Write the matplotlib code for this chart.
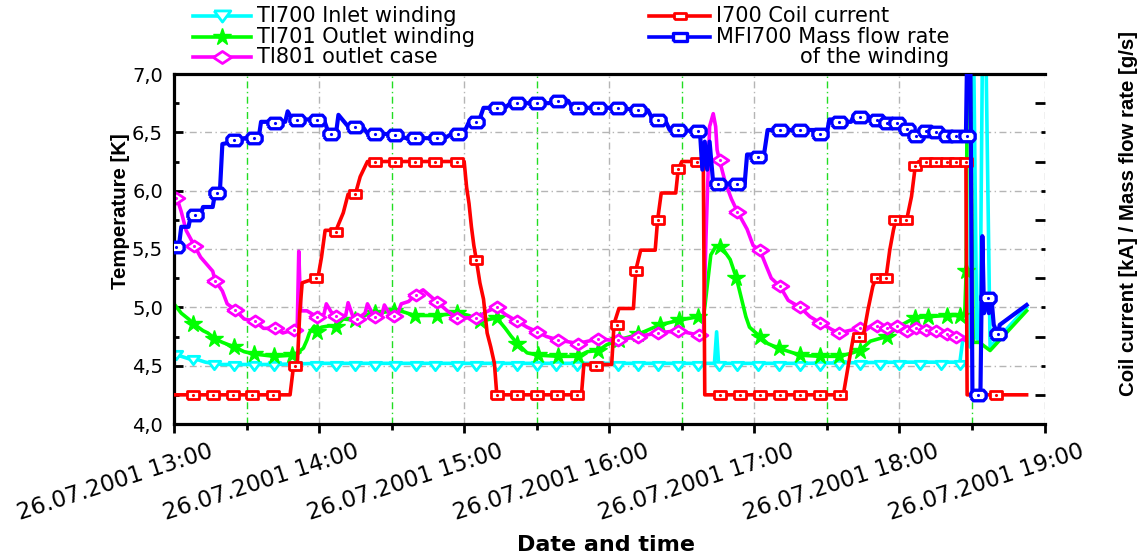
import matplotlib
matplotlib.use("Agg")
import matplotlib.pyplot as plt
import matplotlib.transforms as mtransforms
from matplotlib.lines import Line2D
from matplotlib.ticker import MultipleLocator, FixedLocator, FuncFormatter

# time axis: minutes after 26.07.2001 13:00
hour_ticks = [0, 60, 120, 180, 240, 300, 360]
hour_labels = ["26.07.2001 13:00", "26.07.2001 14:00", "26.07.2001 15:00",
               "26.07.2001 16:00", "26.07.2001 17:00", "26.07.2001 18:00",
               "26.07.2001 19:00"]

# TI700 inlet winding [K]
ti700_t = [0, 3, 6, 10, 13, 16, 20, 40, 60, 100, 150, 200, 223.5, 224.4, 225.2,
           260, 300, 325, 326.4, 329.2, 329.5, 330.5, 332, 333.3, 334.5, 335.5,
           337.5, 352.6]
ti700_v = [4.60, 4.58, 4.56, 4.55, 4.53, 4.52, 4.51, 4.51, 4.52, 4.52, 4.52,
           4.52, 4.52, 4.79, 4.52, 4.52, 4.53, 4.53, 4.75, 4.66, 7.6, 7.6, 4.73,
           4.72, 7.6, 7.6, 4.66, 5.00]
ti700_mt = [1, 8, 16.7, 25, 33, 41.5, 50, 58.6, 67, 75, 83, 91.5, 100, 108, 117,
            125, 133.4, 141.7, 150, 158, 166.5, 175, 183.5, 192, 200, 208.5,
            216.8, 225.5, 233, 241.5, 250, 258.9, 267, 275, 283.5, 292, 300,
            308.5, 317, 325]
ti700_mv = [4.59, 4.55, 4.51, 4.50, 4.50, 4.50, 4.50, 4.50, 4.50, 4.50, 4.50,
            4.50, 4.50, 4.50, 4.50, 4.50, 4.50, 4.50, 4.50, 4.50, 4.50, 4.50,
            4.50, 4.50, 4.50, 4.50, 4.50, 4.50, 4.50, 4.50, 4.50, 4.50, 4.50,
            4.51, 4.51, 4.51, 4.51, 4.51, 4.51, 4.51]

# TI701 outlet winding [K]
ti701_t = [0, 3, 6, 8, 12, 14, 17, 20, 25, 29, 33, 41.5, 49, 51, 53.5, 55, 56,
           58, 59, 61, 64, 67, 70, 75, 80, 91, 92, 99.6, 108.6, 118, 122, 126.5,
           133.4, 137, 139.5, 142, 146, 150.6, 159, 167, 171, 175.5, 179, 184,
           192, 201, 209, 216.8, 218.8, 219.5, 220.5, 222, 224, 226, 228, 230,
           232.6, 234.5, 236.5, 238, 242.3, 245.5, 250, 256, 259, 267, 275, 279,
           283.6, 288, 294.7, 300, 306.4, 312, 319.5, 327, 327.6, 328.2, 329,
           330.5, 333, 337.5, 352.6]
ti701_v = [5.03, 4.95, 4.90, 4.86, 4.80, 4.78, 4.73, 4.70, 4.66, 4.62, 4.60,
           4.58, 4.59, 4.61, 4.65, 4.72, 4.78, 4.84, 4.80, 4.83, 4.84, 4.84,
           4.90, 4.89, 4.94, 4.97, 4.98, 4.93, 4.93, 4.95, 4.93, 4.88, 4.91,
           4.82, 4.75, 4.69, 4.61, 4.59, 4.58, 4.58, 4.62, 4.63, 4.68, 4.72,
           4.77, 4.85, 4.89, 4.92, 4.90, 5.00, 5.18, 5.45, 5.52, 5.53, 5.47,
           5.41, 5.25, 5.09, 4.92, 4.83, 4.75, 4.69, 4.65, 4.61, 4.59, 4.58,
           4.58, 4.60, 4.63, 4.71, 4.75, 4.84, 4.91, 4.92, 4.93, 4.93, 5.31,
           7.6, 7.6, 4.70, 4.70, 4.63, 4.97]
ti701_mt = [8, 16.7, 25, 33, 41.5, 49, 59, 67, 75, 83, 91, 99.6, 108.6, 117,
            126.5, 133.4, 142, 150.6, 159, 167, 175.5, 184, 192, 201, 209, 216.8,
            226, 232.6, 242.3, 250, 258.9, 267, 275, 283.6, 294.7, 306.4, 312,
            319.5, 325, 327.6]
ti701_mv = [4.86, 4.73, 4.66, 4.60, 4.58, 4.59, 4.79, 4.83, 4.89, 4.95, 4.97,
            4.93, 4.93, 4.95, 4.88, 4.91, 4.69, 4.59, 4.58, 4.58, 4.63, 4.72,
            4.77, 4.85, 4.89, 4.92, 5.52, 5.25, 4.75, 4.65, 4.59, 4.58, 4.58,
            4.63, 4.75, 4.91, 4.92, 4.93, 4.93, 5.31]

# TI801 outlet case [K]
ti801_t = [0, 1, 3, 5, 8.4, 11, 16, 17, 20, 22, 25.2, 29, 33.5, 37, 41.8, 45,
           49.8, 51, 51.6, 52.4, 55, 59, 62, 63, 65, 67, 71, 72, 74, 75.7, 79,
           80, 82, 83, 86, 87, 89, 92, 94, 97, 100, 103, 108.6, 113, 117, 125,
           129, 133.4, 137, 142, 146, 150.3, 154, 159, 167, 175.5, 180, 183.7,
           192, 200, 208.5, 213, 217, 219, 220, 221.5, 223, 224, 224.6, 225.6,
           228, 230.5, 233, 237, 239.5, 242.3, 245, 247, 250.6, 254, 258.9, 263,
           267, 272, 275, 279, 283.6, 290.6, 295, 298.8, 303, 307, 311, 315,
           319.5, 323.5, 327]
ti801_v = [5.96, 5.95, 5.82, 5.66, 5.53, 5.43, 5.31, 5.23, 5.14, 5.03, 4.98,
           4.90, 4.88, 4.82, 4.82, 4.78, 4.81, 4.86, 5.48, 4.97, 4.97, 4.92,
           4.94, 5.03, 4.96, 4.93, 4.93, 5.04, 4.92, 4.90, 4.95, 5.03, 4.95,
           4.92, 4.94, 5.02, 4.95, 4.92, 5.03, 5.05, 5.11, 5.15, 5.05, 4.97,
           4.91, 4.91, 4.96, 5.00, 4.94, 4.88, 4.83, 4.79, 4.75, 4.72, 4.69,
           4.73, 4.72, 4.72, 4.75, 4.78, 4.80, 4.78, 4.76, 4.78, 5.60, 6.55,
           6.66, 6.55, 6.35, 6.26, 6.07, 5.93, 5.82, 5.67, 5.53, 5.49, 5.35,
           5.25, 5.18, 5.06, 5.00, 4.92, 4.87, 4.81, 4.78, 4.80, 4.82, 4.84,
           4.82, 4.84, 4.80, 4.82, 4.81, 4.80, 4.77, 4.75, 4.72]
ti801_mt = [1, 8.4, 17, 25.2, 33.5, 41.8, 49.8, 59, 67, 75.7, 83, 91, 100,
            108.6, 117, 125, 133.4, 142, 150.3, 159, 167, 175.5, 183.7, 192, 200,
            208.5, 217, 225.6, 233, 242.3, 250.6, 258.9, 267, 275, 283.6, 290.6,
            295, 298.8, 303, 307, 311, 315, 319.5, 323.5]
ti801_mv = [5.94, 5.53, 5.23, 4.98, 4.88, 4.82, 4.81, 4.92, 4.93, 4.90, 4.92,
            4.93, 5.11, 5.05, 4.91, 4.91, 5.00, 4.88, 4.79, 4.72, 4.69, 4.73,
            4.72, 4.75, 4.78, 4.80, 4.76, 6.26, 5.82, 5.49, 5.18, 5.00, 4.87,
            4.78, 4.82, 4.84, 4.82, 4.84, 4.80, 4.82, 4.81, 4.80, 4.77, 4.75]

# I700 coil current [kA]
i700_t = [0, 48, 49.5, 51, 52, 53, 58.6, 59.5, 61, 62.5, 67, 70, 72, 75, 77, 80,
          120, 121, 122, 123, 124, 125, 126.5, 128, 129.5, 131, 132.5, 133.5,
          168.5, 169.5, 181, 182, 184, 190, 191, 193, 199, 200, 201.5, 207.5,
          208.5, 210, 218.9, 219.5, 276.8, 279, 281, 285, 287, 289, 290.5,
          294.5, 296, 297.5, 298.5, 303, 305, 306.5, 308, 327.5, 328, 352.6]
i700_v = [0.00, 0.00, 0.52, 0.52, 1.40, 1.92, 2.00, 2.00, 2.36, 2.82, 2.82, 3.12,
          3.44, 3.44, 3.74, 4.00, 4.00, 3.56, 3.28, 2.88, 2.56, 2.32, 1.92, 1.64,
          1.06, 0.82, 0.54, 0.00, 0.00, 0.52, 0.52, 1.22, 1.48, 1.48, 2.14,
          2.48, 2.48, 3.00, 3.46, 3.46, 3.86, 4.00, 4.00, 0.00, 0.00, 0.54,
          1.00, 1.00, 1.46, 1.86, 2.02, 2.02, 2.48, 2.82, 3.00, 3.00, 3.40,
          3.90, 4.00, 4.00, 0.00, 0.00]
i700_mt = [8, 16, 24.4, 32.3, 41, 50, 58.6, 67, 75, 83, 91.4, 99.6, 107.9, 117,
           124.9, 133.4, 141.7, 150, 158.2, 166.5, 174.7, 183, 191, 200, 208.5,
           216.4, 225.8, 234, 242.3, 250.6, 258.9, 267.1, 275.4, 283.4, 290.6,
           294.5, 298, 302.6, 306.6, 311, 315, 319.5, 323.4, 327.5, 340]
i700_mv = [0, 0, 0, 0, 0, 0.5, 2.0, 2.8, 3.44, 4, 4, 4, 4, 4, 2.32, 0, 0, 0, 0,
           0, 0.5, 1.2, 2.12, 3.0, 3.88, 4, 0, 0, 0, 0, 0, 0, 0, 1.0, 2.0, 2.0,
           3.0, 3.0, 3.92, 4, 4, 4, 4, 4, 0]

# MFI700 mass flow rate of the winding [g/s]
mfi700_t = [0, 2, 3, 6, 7, 11, 12, 16, 17, 19, 20, 28, 29, 35, 36, 46, 47, 49,
            62, 64, 67, 68, 72, 78, 80, 85, 91, 96, 112, 115, 120, 122, 126, 128,
            137, 139, 155, 157, 163, 165, 186, 190, 196, 198, 203, 205, 217.5,
            218.5, 219.5, 220.5, 221.5, 223, 236, 237, 244, 245.5, 265, 266, 270,
            271, 274, 276, 280, 281, 287, 289, 295, 300, 303, 307, 309, 313, 317,
            327.5, 328.3, 329.2, 330.2, 333.5, 334.3, 335, 336, 337, 338, 339,
            340.7, 341.5, 352.6]
mfi700_v = [2.50, 2.54, 2.88, 2.88, 3.08, 3.08, 3.22, 3.22, 3.46, 3.50, 4.30,
            4.36, 4.40, 4.40, 4.68, 4.68, 4.86, 4.72, 4.72, 4.48, 4.48, 4.80,
            4.60, 4.60, 4.48, 4.48, 4.46, 4.40, 4.40, 4.48, 4.50, 4.68, 4.68,
            4.92, 4.92, 5.00, 5.00, 5.04, 5.04, 4.92, 4.92, 4.88, 4.88, 4.72,
            4.72, 4.54, 4.52, 3.86, 4.34, 3.86, 4.34, 3.62, 3.62, 4.12, 4.12,
            4.54, 4.54, 4.48, 4.48, 4.72, 4.72, 4.68, 4.68, 4.78, 4.78, 4.72,
            4.66, 4.62, 4.56, 4.44, 4.52, 4.50, 4.44, 4.44, 6.70, 6.70, 0.00,
            0.00, 2.72, 1.40, 1.70, 1.40, 1.70, 1.20, 1.04, 1.20, 1.54]
mfi700_mt = [1, 8.7, 17.6, 25, 33, 41.8, 50.7, 59, 65, 74.8, 83, 91.5, 99.6,
             108.6, 117.6, 125, 133.4, 141.7, 150, 159, 167, 175.5, 183.7, 192,
             200, 208.5, 216.8, 225, 233, 241.5, 250.6, 259, 267, 275, 283.6,
             290.6, 295, 298.8, 303, 307, 311, 315, 319.5, 323.6, 327.8, 332.6,
             336.6, 340.7]
mfi700_mv = [2.54, 3.08, 3.46, 4.36, 4.40, 4.66, 4.72, 4.72, 4.48, 4.60, 4.48,
             4.46, 4.40, 4.40, 4.48, 4.68, 4.92, 5.00, 5.00, 5.04, 4.92, 4.92,
             4.92, 4.88, 4.72, 4.54, 4.52, 3.62, 3.62, 4.08, 4.54, 4.54, 4.48,
             4.68, 4.76, 4.72, 4.66, 4.66, 4.56, 4.44, 4.52, 4.50, 4.44, 4.44,
             4.44, 0.00, 1.66, 1.04]

# the original export is stretched sideways, so the markers are wide shapes
wide_tri = [(-1.5, 1), (1.5, 1), (0, -1), (-1.5, 1)]
wide_dia = [(-1.5, 0), (0, -1), (1.5, 0), (0, 1), (-1.5, 0)]
wide_sq = [(-1.6, -1), (1.6, -1), (1.6, 1), (-1.6, 1), (-1.6, -1)]
wide_oct = [(-1.45, -0.45), (-0.95, -1), (0.95, -1), (1.45, -0.45), (1.45, 0.45),
            (0.95, 1), (-0.95, 1), (-1.45, 0.45), (-1.45, -0.45)]

W, H = 1143, 558
fig = plt.figure(figsize=(W / 100, H / 100), dpi=100)
x0, x1, y0, y1 = 174, 1044.5, 74, 424
ax = fig.add_axes([x0 / W, 1 - y1 / H, (x1 - x0) / W, (y1 - y0) / H])
ax2 = ax.twinx()

tick_font = "DejaVu Sans"
lab_font = ["Liberation Sans", "DejaVu Sans"]
lw = 2.6

# left axis: temperatures
ax.plot(ti700_t, ti700_v, color="#00ffff", lw=lw)
ax.plot(ti700_mt, ti700_mv, ls="none", marker=wide_tri, ms=9, mfc="white",
        mec="#00ffff", mew=2)
ax.plot(ti701_t, ti701_v, color="#00ff00", lw=lw)
ax.plot(ti701_mt, ti701_mv, ls="none", marker="*", ms=13, color="#00ff00")
ax.plot(ti801_t, ti801_v, color="#ff00ff", lw=lw)
ax.plot(ti801_mt, ti801_mv, ls="none", marker=wide_dia, ms=12, mfc="white",
        mec="#ff00ff", mew=2)
ax.plot(ti801_mt, ti801_mv, ls="none", marker=".", ms=2.5, color="#ff00ff")

# right axis: coil current / mass flow
ax2.plot(i700_t, i700_v, color="#ff0000", lw=lw)
ax2.plot(i700_mt, i700_mv, ls="none", marker=wide_sq, ms=8.5, mfc="white",
         mec="#ff0000", mew=2)
ax2.plot(i700_mt, i700_mv, ls="none", marker=".", ms=2.5, color="#ff0000")
ax2.plot(mfi700_t, mfi700_v, color="#0000ff", lw=lw + 0.4)
ax2.plot(mfi700_mt, mfi700_mv, ls="none", marker=wide_oct, ms=11, mfc="white",
         mec="#0000ff", mew=2.4)
ax2.plot(mfi700_mt, mfi700_mv, ls="none", marker=".", ms=2.5, color="#0000ff")

ax.set_xlim(0, 360)
ax.set_ylim(4.0, 7.0)
ax2.set_ylim(-0.5, 5.5)

ax.xaxis.set_major_locator(FixedLocator(hour_ticks))
ax.xaxis.set_minor_locator(MultipleLocator(30))
ax.set_xticklabels(hour_labels, family=tick_font, fontsize=16.5, rotation=18,
                   ha="right", va="top", rotation_mode="anchor")
ax.yaxis.set_major_locator(MultipleLocator(0.5))
ax.yaxis.set_minor_locator(MultipleLocator(0.25))
ax.yaxis.set_major_formatter(FuncFormatter(lambda v, p: f"{v:.1f}".replace(".", ",")))
for lab in ax.get_yticklabels():
    lab.set_family(tick_font)
    lab.set_fontsize(14)

ax.tick_params(axis="y", which="major", direction="in", length=6.5, width=2, pad=8)
ax.tick_params(axis="y", which="minor", direction="in", length=3.5, width=2)
ax.tick_params(axis="x", which="major", direction="out", length=6.5, width=2, pad=5)
ax.tick_params(axis="x", which="minor", direction="out", length=4, width=2)
ax2.yaxis.set_major_locator(MultipleLocator(1))
ax2.yaxis.set_minor_locator(MultipleLocator(0.5))
ax2.tick_params(axis="y", which="major", direction="in", length=7.5, width=2,
                labelright=False)
ax2.tick_params(axis="y", which="minor", direction="in", length=3, width=2)

shift = mtransforms.ScaledTranslation(0.35, 0, fig.dpi_scale_trans)
for lab in ax.get_xticklabels():
    lab.set_transform(lab.get_transform() + shift)

for s in ["left", "bottom", "top"]:
    ax.spines[s].set_linewidth(2.3)
ax.spines["right"].set_visible(False)
for s in ax2.spines.values():
    s.set_visible(False)

dashdot = (0, (5, 2.5, 1, 2.5))
ax.grid(which="major", axis="both", color="#b5b5b5", ls=dashdot, lw=1)
ax.grid(which="minor", axis="x", color="#22dd22", ls=dashdot, lw=1)

ax.set_xlabel("Date and time", family="DejaVu Sans", fontweight="bold",
              fontsize=16, va="center")
ax.xaxis.set_label_coords((606 - x0) / (x1 - x0), (y1 - 545) / (y1 - y0))
ax.set_ylabel("Temperature [K]", family=lab_font, fontweight="bold",
              fontsize=14.7, va="center")
ax.yaxis.set_label_coords((121 - x0) / (x1 - x0), (y1 - 211) / (y1 - y0))
ax2.set_ylabel("Coil current [kA] / Mass flow rate [g/s]", family=lab_font,
               fontweight="bold", fontsize=14.7, va="center", rotation=90)
ax2.yaxis.set_label_coords((1129 - x0) / (x1 - x0), (y1 - 214) / (y1 - y0))

# legend drawn in figure pixels
leg_font = 15
entries = [
    (193, 251, 16, "#00ffff", dict(marker=wide_tri, ms=12, mfc="white", mew=2), "TI700 Inlet winding"),
    (193, 251, 37, "#00ff00", dict(marker="*", ms=13, mfc="#00ff00", mew=1), "TI701 Outlet winding"),
    (193, 251, 57, "#ff00ff", dict(marker=wide_dia, ms=13, mfc="white", mew=2), "TI801 outlet case"),
    (649, 710, 16, "#ff0000", dict(marker=wide_sq, ms=8, mfc="white", mew=2), "I700 Coil current"),
    (649, 710, 37, "#0000ff", dict(marker=wide_sq, ms=10, mfc="white", mew=2.4), "MFI700 Mass flow rate"),
]
texts = []
for xa, xb, yy, col, mk, txt in entries:
    fy = 1 - yy / H
    fig.add_artist(Line2D([xa / W, xb / W], [fy, fy], color=col, lw=lw,
                          transform=fig.transFigure))
    fig.add_artist(Line2D([(xa + xb) / 2 / W], [fy], color=col, mec=col,
                          transform=fig.transFigure, **mk))
    texts.append(fig.text((xb + 6) / W, fy, txt, family=tick_font,
                          fontsize=leg_font, va="center"))
fig.canvas.draw()
right_end = texts[-1].get_window_extent().x1
fig.text(right_end / W, 1 - 57 / H, "of the winding", family=tick_font,
         fontsize=leg_font, va="center", ha="right")

fig.savefig("out.png", dpi=100)
